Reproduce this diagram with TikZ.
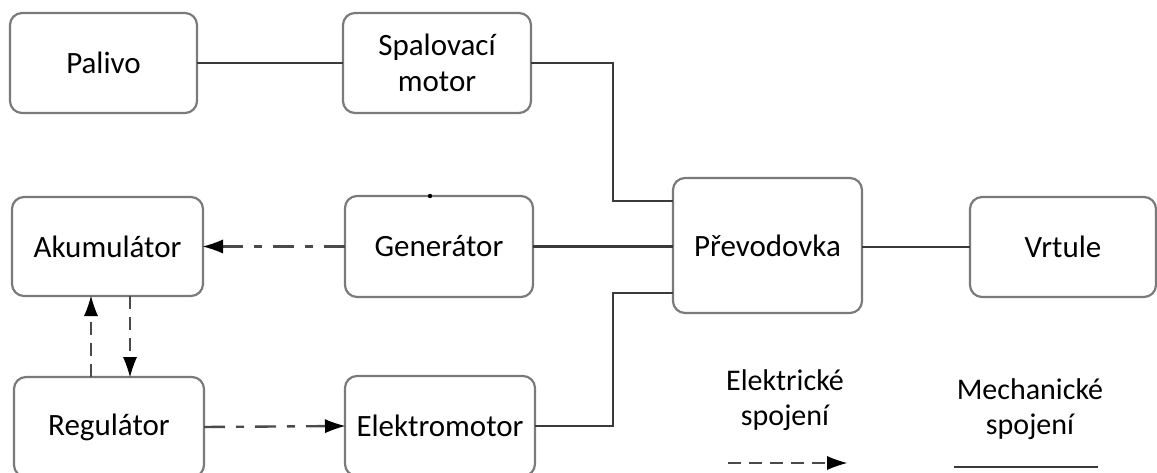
\documentclass[tikz,border=0pt]{standalone}
\usepackage{fontspec}
\setmainfont{Carlito}
\usetikzlibrary{arrows.meta}
\definecolor{boxgray}{HTML}{7A7A7A}
\definecolor{linegray}{HTML}{3A3A3A}
\definecolor{elecgray}{HTML}{4A4A4A}
\begin{document}
\begin{tikzpicture}[x=1pt,y=-1pt,
  block/.style={draw=boxgray,line width=2.2pt,rounded corners=12pt,fill=white,
    align=center,inner sep=0pt,outer sep=0pt,
    font=\fontsize{31}{36}\selectfont},
  mech/.style={draw=linegray,line width=2.4pt},
  elec/.style={draw=elecgray,line width=2.4pt,
    -{Latex[length=20pt,width=14pt,fill=black,line width=0pt]}},
  dashdot/.style={dash pattern=on 21pt off 11pt on 8pt off 11pt},
  longdash/.style={dash pattern=on 13pt off 8pt},
  legendtext/.style={align=center,font=\fontsize{30}{35}\selectfont,inner sep=0pt}]
\useasboundingbox (0,0) rectangle (1157,473);

% blocks
\node[block,minimum width=187pt,minimum height=100pt] (pal)  at (103.5,63)  {Palivo};
\node[block,minimum width=188pt,minimum height=100pt] (spal) at (437,63)    {Spalovací\\motor};
\node[block,minimum width=191pt,minimum height=99pt]  (aku)  at (107.5,246.5) {Akumulátor};
\node[block,minimum width=188pt,minimum height=101pt] (gen)  at (439,246.5) {Generátor};
\node[block,minimum width=190pt,minimum height=100pt] (reg)  at (109,427)   {Regulátor};
\node[block,minimum width=190pt,minimum height=100pt] (elek) at (440,426)   {Elektromotor};
\node[block,minimum width=189pt,minimum height=135pt] (prev) at (767.5,245.5) {Převodovka};
\node[block,minimum width=186pt,minimum height=100pt] (vrt)  at (1063,247)  {Vrtule};

% gearbox inputs
\coordinate (pin1) at ([yshift=-23pt]prev.north west);
\coordinate (pin3) at ([yshift=20pt]prev.south west);

% mechanical links
\draw[mech] (pal.east) -- (spal.west);
\draw[mech] (spal.east) -| ([xshift=-60pt]pin1) -- (pin1);
\draw[mech] (gen.east) -- (gen.east -| prev.west);
\draw[mech] (elek.east) -| ([xshift=-60pt]pin3) -- (pin3);
\draw[mech] (prev.east |- vrt.west) -- (vrt.west);

% electrical links
\draw[elec,dashdot] (gen.west) -- (aku.east);
\draw[elec,dashdot] (reg.east) -- (elek.west);
\draw[elec,longdash] ([xshift=-18pt]reg.north) -- ([xshift=-18pt]reg.north |- aku.south);
\draw[elec,longdash] ([xshift=22.5pt]aku.south) -- ([xshift=22.5pt]aku.south |- reg.north);

% small mark on the generator outline
\coordinate (gmark) at ([xshift=-9pt]gen.north);
\fill[black] (gmark) circle (2.2pt);

% legend
\node[legendtext] (lel) at (785,400) {Elektrické\\spojení};
\node[legendtext] (lme) at (1030,409) {Mechanické\\spojení};
\coordinate (le1) at (728,463);
\coordinate (le2) at (847,463);
\coordinate (lm1) at (954,467);
\coordinate (lm2) at (1098,467);
\draw[elec,longdash] (le1) -- (le2);
\draw[mech] (lm1) -- (lm2);
\end{tikzpicture}
\end{document}
